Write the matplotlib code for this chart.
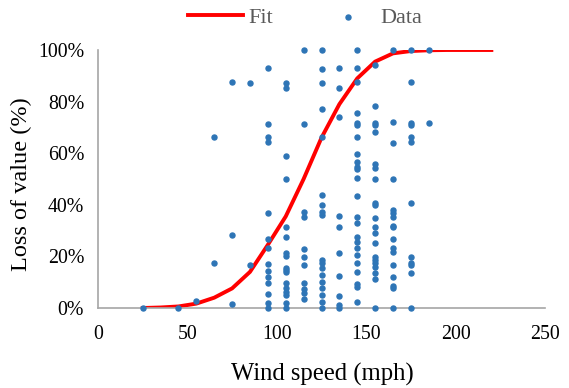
import matplotlib
matplotlib.use("Agg")
import matplotlib.pyplot as plt
from matplotlib.ticker import FuncFormatter

plt.rcParams["font.family"] = ["Liberation Serif", "DejaVu Serif"]

# velocidade do vento (mph) e perda de valor (%) observada
data_x = (
    [25, 45, 55]
    + [65] * 2
    + [75] * 3
    + [85] * 2
    + [95] * 14
    + [105] * 17
    + [115] * 11
    + [125] * 18
    + [135] * 10
    + [145] * 24
    + [155] * 21
    + [165] * 17
    + [175] * 12
    + [185] * 2
)
data_y = (
    [0, 0, 2.7]
    + [66.4, 17.4]
    + [87.7, 28.4, 1.6]
    + [87.2, 16.5]
    + [93.0, 71.2, 66.4, 64.2, 36.9, 26.7, 23.1, 17.1, 14.3, 12.1, 9.8, 5.3, 1.8, 0]
    + [87.3, 85.4, 58.9, 49.9, 31.3, 27.6, 21.4, 20.2, 15.6, 14.7, 13.8, 9.8, 7.6, 6.3, 5.0, 1.8, 0]
    + [100, 71.2, 37.3, 35.4, 22.8, 19.9, 16.5, 9.8, 7.2, 5.9, 3.4]
    + [100, 92.5, 87.3, 77.0, 66.4, 43.8, 39.9, 37.3, 36.0, 18.6, 17.3, 15.4, 12.8, 10.2, 7.6, 5.0, 2.4, 0]
    + [93.0, 85.2, 73.9, 35.8, 31.5, 21.2, 12.5, 4.8, 1.2, 0]
    + [100, 93.0, 87.7, 75.7, 71.6, 70.8, 66.4, 59.7, 56.5, 54.8, 53.9, 50.3, 43.4, 35.4,
       33.1, 27.4, 25.5, 23.1, 20.5, 17.6, 14.1, 9.3, 8.0, 2.4]
    + [94.2, 78.3, 71.8, 70.9, 68.2, 55.8, 54.1, 49.9, 40.6, 39.9, 34.8, 31.3, 29.2, 25.1,
       19.9, 18.6, 17.6, 16.0, 13.7, 11.1, 0]
    + [100, 72.1, 64.1, 49.9, 38.0, 36.7, 35.4, 31.8, 31.3, 26.6, 23.1, 21.8, 16.5, 11.9, 8.5, 7.6, 0]
    + [100, 87.7, 71.6, 70.9, 66.4, 64.2, 40.6, 19.9, 17.6, 16.5, 13.4, 0]
    + [100, 71.8]
)

# curva ajustada
fit_x = [25, 35, 45, 55, 65, 75, 85, 95, 105, 115, 125, 135, 145, 155, 165, 175, 185, 195, 205, 220]
fit_y = [0, 0.2, 0.6, 1.7, 4.0, 7.6, 14.0, 24.5, 35.5, 50.0, 66.0, 79.0, 89.0, 95.5, 98.7, 99.6, 99.9, 100, 100, 100]

fig = plt.figure(figsize=(5.69, 3.88), dpi=100)
ax = fig.add_axes([98 / 569, 1 - 308 / 388, (545 - 98) / 569, (308 - 50) / 388])

ax.plot(fit_x, fit_y, color="#FF0000", linewidth=2.8, label="Fit", zorder=2)
ax.scatter(data_x, data_y, s=13, color="#2E75B6", label="Data", zorder=3, clip_on=False)

ax.set_xlim(0, 250)
ax.set_ylim(0, 100)
ax.set_xticks(range(0, 251, 50))
ax.set_yticks(range(0, 101, 20))
ax.yaxis.set_major_formatter(FuncFormatter(lambda v, p: f"{v:.0f}%"))
ax.tick_params(length=0, labelsize=14.3, pad=10)
ax.tick_params(axis="x", pad=12)

for s in ["top", "right"]:
    ax.spines[s].set_visible(False)
for s in ["left", "bottom"]:
    ax.spines[s].set_color("#A6A6A6")
    ax.spines[s].set_linewidth(1.2)

ax.set_xlabel("Wind speed (mph)", fontsize=17.7)
ax.set_ylabel("Loss of value (%)", fontsize=17.5)
ax.xaxis.set_label_coords(0.503, -0.212)
ax.yaxis.set_label_coords(-0.148, 0.48)

leg = fig.legend(loc="center", bbox_to_anchor=(0.536, 1 - 18 / 388), ncol=2, frameon=False,
                 fontsize=16, handlelength=2.5, columnspacing=2.1, handletextpad=0.23,
                 markerscale=1.0)
for t in leg.get_texts():
    t.set_color("#595959")

fig.savefig("out.png", dpi=100)
